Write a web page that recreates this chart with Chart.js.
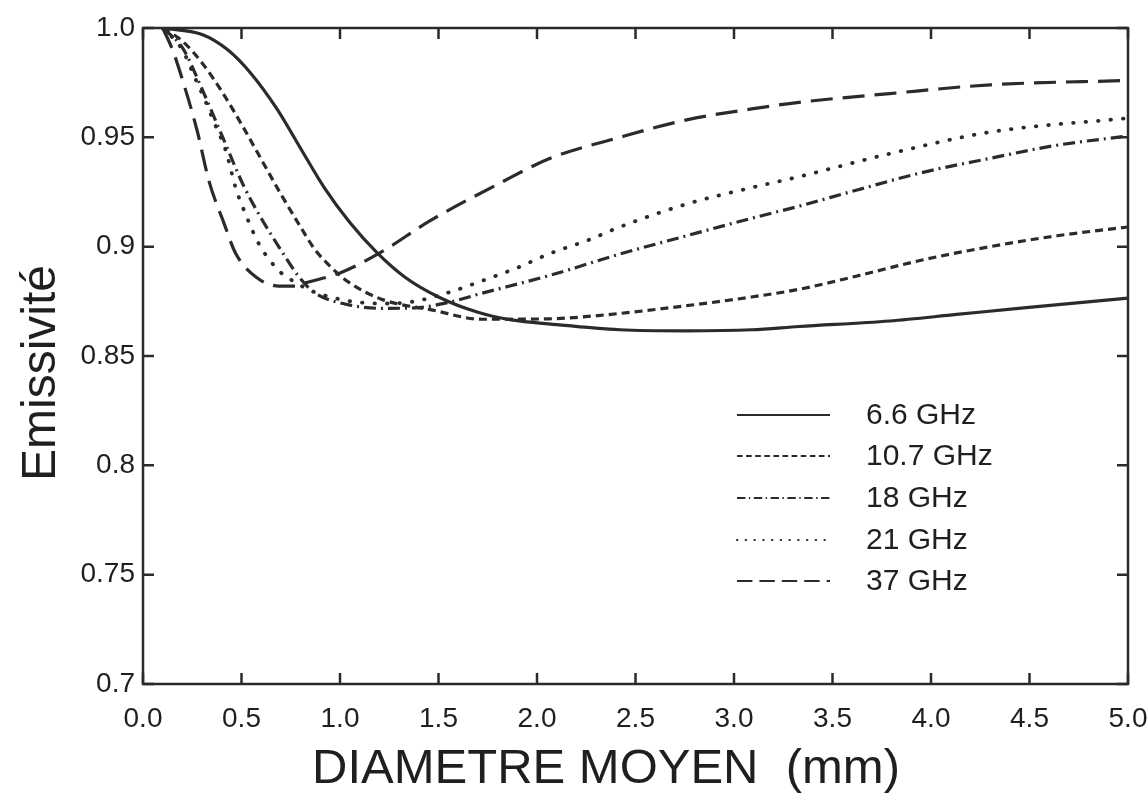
<!DOCTYPE html>
<html>
<head>
<meta charset="utf-8">
<script src="https://cdn.jsdelivr.net/npm/chart.js@4.4.1/dist/chart.umd.min.js"></script>
<style>
    html, body { margin: 0; padding: 0; background: #fff; }
    #wrap { width: 1148px; height: 810px; }
</style>
</head>
<body>
<div id="wrap"><canvas id="emisChart" width="1148" height="810"></canvas></div>
<script>
// curve values (diameter in mm -> emissivity)
var seriesNames = ['6.6 GHz', '10.7 GHz', '18 GHz', '21 GHz', '37 GHz'];

var d66 = [0.1, 0.3, 0.43, 0.55, 0.68, 0.78, 0.92, 1.05, 1.19, 1.33, 1.5, 1.7, 1.87, 2.08, 2.42, 2.76, 3.09, 3.33, 3.79, 4.13, 4.47, 5.0];
var e66 = [1.0, 0.997, 0.990, 0.979, 0.963, 0.948, 0.927, 0.911, 0.897, 0.886, 0.877, 0.870, 0.8665, 0.8645, 0.862, 0.8615, 0.862, 0.8635, 0.866, 0.869, 0.872, 0.8765];

var d107 = [0.1, 0.2, 0.3, 0.4, 0.5, 0.6, 0.7, 0.8, 0.87, 0.95, 1.04, 1.21, 1.47, 1.72, 2.06, 2.31, 2.76, 3.09, 3.33, 3.62, 3.96, 4.3, 4.64, 5.0];
var e107 = [1.0, 0.994, 0.984, 0.971, 0.956, 0.940, 0.924, 0.909, 0.899, 0.891, 0.884, 0.876, 0.871, 0.8668, 0.867, 0.8685, 0.873, 0.877, 0.8805, 0.8865, 0.894, 0.900, 0.905, 0.909];

var d18 = [0.1, 0.2, 0.3, 0.4, 0.51, 0.6, 0.7, 0.785, 0.87, 1.04, 1.21, 1.38, 1.55, 1.72, 2.07, 2.42, 2.76, 3.09, 3.33, 3.62, 3.96, 4.3, 4.64, 5.0];
var e18 = [1.0, 0.991, 0.972, 0.951, 0.928, 0.913, 0.8985, 0.887, 0.879, 0.8735, 0.8718, 0.872, 0.8745, 0.8787, 0.887, 0.8966, 0.905, 0.913, 0.9185, 0.9258, 0.934, 0.9404, 0.9464, 0.9506];

var d21 = [0.1, 0.2, 0.26, 0.31, 0.365, 0.42, 0.47, 0.52, 0.59, 0.69, 0.76, 0.85, 0.95, 1.1, 1.25, 1.38, 1.55, 1.74, 1.89, 2.07, 2.26, 2.42, 2.76, 3.09, 3.33, 3.79, 4.3, 5.0];
var e21 = [1.0, 0.990, 0.978, 0.968, 0.956, 0.944, 0.927, 0.915, 0.901, 0.889, 0.8844, 0.880, 0.877, 0.8745, 0.874, 0.875, 0.879, 0.885, 0.890, 0.897, 0.903, 0.909, 0.9195, 0.927, 0.932, 0.9425, 0.9524, 0.9588];

var d37 = [0.1, 0.15, 0.21, 0.275, 0.335, 0.41, 0.47, 0.575, 0.69, 0.77, 0.83, 1.0, 1.2, 1.46, 1.8, 2.07, 2.42, 2.76, 3.09, 3.33, 3.79, 4.3, 5.0];
var e37 = [1.0, 0.990, 0.9735, 0.953, 0.930, 0.911, 0.897, 0.886, 0.882, 0.882, 0.8836, 0.888, 0.897, 0.912, 0.9285, 0.9405, 0.950, 0.958, 0.963, 0.966, 0.970, 0.974, 0.976];

var xTitle = 'DIAMETRE MOYEN  (mm)';
var yTitle = 'Emissivité';

var ink = '#2b2b2b';
var textInk = '#1f1f1f';
var font = '"Liberation Sans", Arial, Helvetica, sans-serif';

function toPoints(xs, ys) {
    return xs.map(function (x, i) {
        return { x: x, y: ys[i] };
    });
}

function lineSet(name, xs, ys, dash, cap, width) {
    return {
        label: name,
        data: toPoints(xs, ys),
        borderColor: ink,
        borderWidth: width || 3.2,
        borderDash: dash,
        borderCapStyle: cap || 'butt',
        pointRadius: 0,
        fill: false,
        cubicInterpolationMode: 'monotone'
    };
}

// frame, inward ticks, axis titles and legend
var decorPlugin = {
    id: 'decor',
    afterDatasetsDraw: function (chart) {
        var a = chart.chartArea;
        var ctx = chart.ctx;
        var xs = chart.scales.x;
        var ys = chart.scales.y;
        var tickLen = 11;

        ctx.save();
        ctx.strokeStyle = ink;
        ctx.lineWidth = 2.5;
        ctx.setLineDash([]);
        ctx.strokeRect(a.left, a.top, a.right - a.left, a.bottom - a.top);

        ctx.beginPath();
        xs.ticks.forEach(function (t) {
            var px = xs.getPixelForValue(t.value);
            ctx.moveTo(px, a.bottom);
            ctx.lineTo(px, a.bottom - tickLen);
            ctx.moveTo(px, a.top);
            ctx.lineTo(px, a.top + tickLen);
        });
        ys.ticks.forEach(function (t) {
            var py = ys.getPixelForValue(t.value);
            ctx.moveTo(a.left, py);
            ctx.lineTo(a.left + tickLen, py);
            ctx.moveTo(a.right, py);
            ctx.lineTo(a.right - tickLen, py);
        });
        ctx.stroke();

        // axis titles
        ctx.fillStyle = textInk;
        ctx.font = '49px ' + font;
        ctx.textAlign = 'center';
        ctx.textBaseline = 'alphabetic';
        ctx.fillText(xTitle, 606, 783);

        ctx.save();
        ctx.translate(55, 373);
        ctx.rotate(-Math.PI / 2);
        ctx.font = '48px ' + font;
        ctx.fillText(yTitle, 0, 0);
        ctx.restore();

        // legend
        var rowY = [415, 456, 498, 540, 581];
        ctx.font = '30px ' + font;
        ctx.textAlign = 'left';
        ctx.textBaseline = 'middle';
        chart.data.datasets.forEach(function (ds, i) {
            var y = rowY[i];
            ctx.strokeStyle = ink;
            ctx.lineWidth = 2.2;
            ctx.lineCap = ds.borderCapStyle;
            ctx.setLineDash(ds.borderDash.map(function (v) { return v * 0.7; }));
            ctx.beginPath();
            ctx.moveTo(737, y);
            ctx.lineTo(830, y);
            ctx.stroke();
            ctx.setLineDash([]);
            ctx.fillText(ds.label, 866, y + 1);
        });
        ctx.restore();
    }
};

var ctx = document.getElementById('emisChart').getContext('2d');

var emisChart = new Chart(ctx, {
    type: 'line',
    data: {
        datasets: [
            lineSet(seriesNames[0], d66, e66, []),
            lineSet(seriesNames[1], d107, e107, [8, 5]),
            lineSet(seriesNames[2], d18, e18, [12, 5, 2, 5]),
            lineSet(seriesNames[3], d21, e21, [0.5, 12], 'round', 3.8),
            lineSet(seriesNames[4], d37, e37, [22, 10])
        ]
    },
    plugins: [decorPlugin],
    options: {
        responsive: false,
        animation: false,
        layout: {
            padding: { left: 0, right: 20, top: 28, bottom: 0 }
        },
        plugins: {
            legend: { display: false },
            tooltip: { enabled: false }
        },
        scales: {
            x: {
                type: 'linear',
                min: 0,
                max: 5,
                grid: { display: false, drawTicks: false },
                border: { display: false },
                ticks: {
                    stepSize: 0.5,
                    padding: 18,
                    color: textInk,
                    font: { family: font, size: 28 },
                    maxRotation: 0,
                    callback: function (v) { return Number(v).toFixed(1); }
                },
                afterFit: function (scale) {
                    scale.height = 126;
                    scale.paddingLeft = 0;
                    scale.paddingRight = 0;
                }
            },
            y: {
                min: 0.7,
                max: 1.0,
                grid: { display: false, drawTicks: false },
                border: { display: false },
                ticks: {
                    stepSize: 0.05,
                    padding: 8,
                    color: textInk,
                    font: { family: font, size: 28 },
                    callback: function (v) {
                        var c = Math.round(v * 100);
                        return c % 10 === 0 ? (c / 100).toFixed(1) : (c / 100).toFixed(2);
                    }
                },
                afterFit: function (scale) { scale.width = 143; }
            }
        }
    }
});
</script>
</body>
</html>
